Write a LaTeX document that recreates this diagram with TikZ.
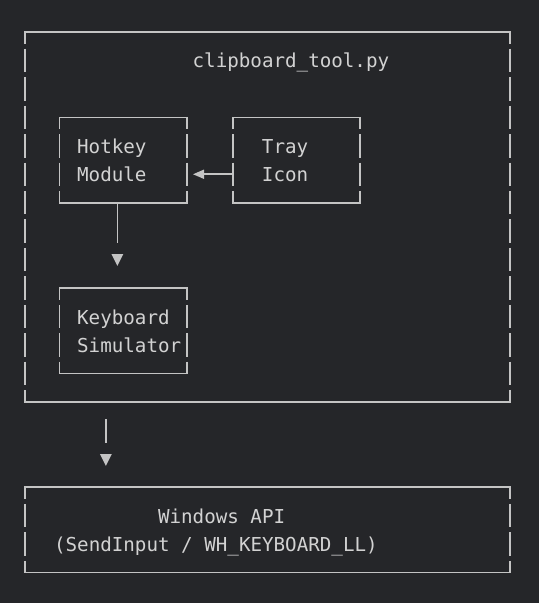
\documentclass[tikz,border=0pt]{standalone}
\usepackage{fontspec}
\setmonofont{DejaVu Sans Mono}
\usetikzlibrary{arrows.meta}
\definecolor{bgc}{HTML}{252629}
\definecolor{ink}{HTML}{D2D2D2}
\definecolor{rulec}{HTML}{C4C4C4}
\tikzset{
  bx/.style={draw=none, inner sep=0pt, outer sep=0pt},
  txt/.style={anchor=base west, inner sep=0pt, text=ink, font=\fontsize{19.2pt}{28.45pt}\selectfont\ttfamily},
  hline/.style={draw=rulec, line width=1.6pt, line cap=rect},
  vline/.style={draw=rulec, line width=1.6pt, dash pattern=on 23.45pt off 5pt, dash phase=11.725pt},
  conn/.style={draw=rulec, line width=1.6pt},
  downtip/.style={-{Triangle[width=11.5pt,length=12pt]}},
  lefttip/.style={-{Triangle[width=9pt,length=11pt]}},
}
\newcommand\asciibox[1]{%
  \draw[hline] (#1.north west) -- (#1.north east) (#1.south west) -- (#1.south east);
  \draw[vline] (#1.north west) -- (#1.south west);
  \draw[vline] (#1.north east) -- (#1.south east);
}
\begin{document}
\begin{tikzpicture}[x=1pt,y=-1pt]
\fill[bgc] (0,0) rectangle (539,603);
\useasboundingbox (0,0) rectangle (539,603);

% boxes
\node[bx, minimum width=485.1pt, minimum height=369.85pt] (outer) at (267.55,216.925) {};
\node[bx, minimum width=127.05pt, minimum height=85.35pt] (hk) at (123.175,160.025) {};
\node[bx, minimum width=127.05pt, minimum height=85.35pt] (tray) at (296.425,160.025) {};
\node[bx, minimum width=127.05pt, minimum height=85.35pt] (ks) at (123.175,330.725) {};
\node[bx, minimum width=485.1pt, minimum height=85.35pt] (win) at (267.55,529.875) {};
\asciibox{outer}
\asciibox{hk}
\asciibox{tray}
\asciibox{ks}
\asciibox{win}

% texts
\node[txt] (title) at (192.475,67.95) {clipboard\_tool.py};
\node[txt] (hk1) at (76.975,153.3) {Hotkey};
\node[txt] (hk2) at (76.975,181.75) {Module};
\node[txt] (tr1) at (261.775,153.3) {Tray};
\node[txt] (tr2) at (261.775,181.75) {Icon};
\node[txt] (ks1) at (76.975,324) {Keyboard};
\node[txt] (ks2) at (76.975,352.45) {Simulator};
\node[txt] (wi1) at (157.825,523.15) {Windows API};
\node[txt] (wi2) at (53.875,551.6) {(SendInput / WH\_KEYBOARD\_LL)};

% connectors
\coordinate (r5) at (0,174.25);
\coordinate (c8) at (117.4,0);
\coordinate (c7) at (105.85,0);
\draw[conn, lefttip, shorten >=6.3pt] (tray.west |- r5) -- (hk.east |- r5);
\draw[conn, downtip, dash pattern=on 39.8pt off 300pt, shorten >=22.05pt] (c8 |- hk.south) -- (c8 |- ks.north);
\draw[conn, downtip, dash pattern=on 24pt off 300pt, shorten <=17.5pt, shorten >=21.2pt] (c7 |- outer.south) -- (c7 |- win.north);
\end{tikzpicture}
\end{document}
